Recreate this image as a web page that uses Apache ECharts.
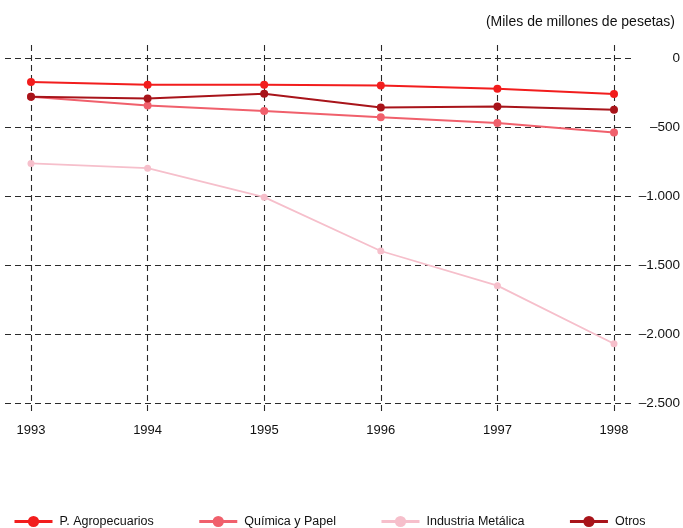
<!DOCTYPE html>
<html>
<head>
<meta charset="utf-8">
<script src="https://cdn.jsdelivr.net/npm/echarts@6/dist/echarts.min.js"></script>
<style>
html,body{margin:0;padding:0;background:#fff;}
#c{width:683px;height:528px;}
</style>
</head>
<body>
<div id="c"></div>
<script>
const years = ['1993','1994','1995','1996','1997','1998'];
const agropecuarios = [-170, -190, -190, -195, -220, -258];
const quimicaPapel = [-278, -340, -380, -425, -468, -537];
const industriaMetalica = [-760, -795, -1005, -1395, -1646, -2067];
const otros = [-278, -290, -255, -355, -348, -372];
const yTicks = [0, -500, -1000, -1500, -2000, -2500];
const unitLabel = '(Miles de millones de pesetas)';

const FONT = '"Liberation Sans", Arial, sans-serif';
const gridLine = {show: true, lineStyle: {color: '#2a2a2a', type: [6, 4], width: 1.1}};

function fmt(v) {
  const a = Math.abs(v);
  let s = String(a);
  if (a >= 1000) s = s.slice(0, s.length - 3) + '.' + s.slice(-3);
  return (v < 0 ? '\u2013' : '') + s;
}

const chart = echarts.init(document.getElementById('c'), null, {renderer: 'canvas'});
chart.setOption({
  backgroundColor: '#fff',
  animation: false,
  textStyle: {fontFamily: FONT},
  title: {
    text: unitLabel, right: 3, top: 10,
    textStyle: {fontFamily: FONT, fontSize: 14, fontWeight: 'normal', color: '#111'}
  },
  legend: {
    left: 8, top: 510, itemWidth: 38, itemHeight: 14, itemGap: 44,
    lineStyle: {width: 3},
    textStyle: {fontFamily: FONT, fontSize: 12.5, color: '#111', padding: [0, 0, 0, 2]},
    data: ['P. Agropecuarios', 'Química y Papel', 'Industria Metálica', 'Otros']
  },
  grid: [
    {left: 5, right: 47, top: 58.5, height: 345},
    {left: 31, right: 69, top: 58.5, height: 345},
    {left: 31, right: 69, top: 45, height: 368}
  ],
  xAxis: [
    {type: 'value', gridIndex: 0, show: false, min: 0, max: 1},
    {type: 'category', gridIndex: 1, data: years, boundaryGap: false, show: false},
    {type: 'category', gridIndex: 2, data: years, boundaryGap: false,
     axisLine: {show: false}, axisTick: {show: false},
     axisLabel: {margin: 11, fontFamily: FONT, fontSize: 13, color: '#111'},
     splitLine: gridLine}
  ],
  yAxis: [
    {type: 'value', gridIndex: 0, min: -2500, max: 0, interval: 500, position: 'right',
     axisLine: {show: false}, axisTick: {show: false},
     axisLabel: {align: 'right', margin: 45, fontFamily: FONT, fontSize: 13.5, color: '#111', formatter: fmt},
     splitLine: gridLine},
    {type: 'value', gridIndex: 1, min: -2500, max: 0, show: false, splitLine: {show: false}},
    {type: 'value', gridIndex: 2, min: 0, max: 1, show: false, splitLine: {show: false}}
  ],
  series: [
    {name: 'Industria Metálica', type: 'line', xAxisIndex: 1, yAxisIndex: 1, data: industriaMetalica,
     color: '#f6bfcb', symbol: 'circle', symbolSize: 7, lineStyle: {width: 1.8}, z: 2},
    {name: 'Química y Papel', type: 'line', xAxisIndex: 1, yAxisIndex: 1, data: quimicaPapel,
     color: '#f0606c', symbol: 'circle', symbolSize: 8, lineStyle: {width: 2}, z: 3},
    {name: 'Otros', type: 'line', xAxisIndex: 1, yAxisIndex: 1, data: otros,
     color: '#a8141a', symbol: 'circle', symbolSize: 8, lineStyle: {width: 2}, z: 4},
    {name: 'P. Agropecuarios', type: 'line', xAxisIndex: 1, yAxisIndex: 1, data: agropecuarios,
     color: '#f21d1d', symbol: 'circle', symbolSize: 8, lineStyle: {width: 2}, z: 5}
  ]
});
</script>
</body>
</html>
